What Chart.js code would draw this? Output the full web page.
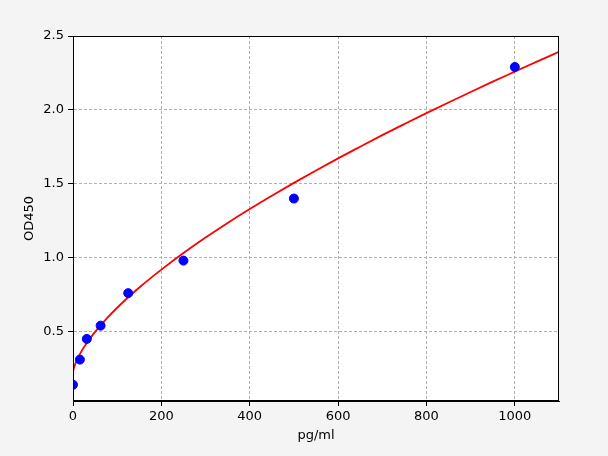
<!DOCTYPE html>
<html>
<head>
<meta charset="utf-8">
<script src="https://cdn.jsdelivr.net/npm/chart.js@4"></script>
<style>
  html, body { margin: 0; padding: 0; background: #f4f4f4; }
  #wrap { width: 608px; height: 456px; }
</style>
</head>
<body>
<div id="wrap"><canvas id="curveChart"></canvas></div>
<script>
// standard points (pg/ml vs OD450)
const stdConc = [0, 15.6, 31.25, 62.5, 125, 250, 500, 1000];
const stdOD = [0.14, 0.31, 0.45, 0.54, 0.76, 0.98, 1.40, 2.29];

// fitted curve
const fitConc = [0, 1, 2.5, 5, 10, 20, 30, 50, 75, 100, 125, 150, 175, 200, 250, 300, 350, 400, 450, 500, 550, 600, 650, 700, 750, 800, 850, 900, 950, 1000, 1050, 1100];
const fitOD = [0.220, 0.241, 0.258, 0.280, 0.315, 0.371, 0.418, 0.498, 0.584, 0.661, 0.732, 0.798, 0.860, 0.919, 1.031, 1.136, 1.235, 1.329, 1.419, 1.506, 1.590, 1.672, 1.751, 1.829, 1.904, 1.978, 2.050, 2.121, 2.191, 2.259, 2.327, 2.393];

const xTicks = [0, 200, 400, 600, 800, 1000];
const yTicks = [0.5, 1.0, 1.5, 2.0, 2.5];

const font = { family: 'DejaVu Sans', size: 13 };

const frame = {
    id: 'frame',
    beforeDraw(chart) {
        const c = chart.ctx, a = chart.chartArea;
        c.save();
        c.fillStyle = '#ffffff';
        c.fillRect(a.left, a.top, a.right - a.left, a.bottom - a.top);
        c.restore();
    },
    afterDraw(chart) {
        const c = chart.ctx, a = chart.chartArea;
        c.save();
        c.strokeStyle = '#000';
        c.lineWidth = 1;
        c.strokeRect(a.left + 0.5, a.top + 0.5, a.right - a.left - 1, a.bottom - a.top - 1);
        c.restore();
    }
};

const gridOpts = {
    color: '#b0b0b0',
    tickColor: '#000',
    tickLength: 5,
    tickBorderDash: [],
    tickWidth: 1
};

new Chart(document.getElementById('curveChart'), {
    type: 'scatter',
    data: {
        datasets: [{
            label: 'standards',
            data: stdConc.map((x, i) => ({ x: x, y: stdOD[i] })),
            backgroundColor: '#0000ff',
            borderColor: '#0000ff',
            pointRadius: 4.5,
            showLine: false,
            order: 1
        }, {
            label: 'fit',
            data: fitConc.map((x, i) => ({ x: x, y: fitOD[i] })),
            borderColor: '#ff0000',
            borderWidth: 1.8,
            pointRadius: 0,
            showLine: true,
            cubicInterpolationMode: 'monotone',
            order: 2
        }]
    },
    options: {
        responsive: true,
        maintainAspectRatio: false,
        animation: false,
        devicePixelRatio: 1,
        layout: { padding: { top: 36, right: 49, left: 0, bottom: 0 } },
        plugins: { legend: { display: false }, tooltip: { enabled: false } },
        scales: {
            x: {
                type: 'linear',
                min: 0,
                max: 1100,
                afterBuildTicks(s) { s.ticks = xTicks.map(v => ({ value: v })); },
                afterFit(s) { s.height = 55; },
                grid: gridOpts,
                border: { display: true, color: '#000', dash: [3, 2] },
                ticks: { color: '#000', font: font, padding: 3, maxRotation: 0, callback: v => String(v) },
                title: { display: true, text: 'pg/ml', color: '#000', font: font, padding: { top: 0, bottom: 13 } }
            },
            y: {
                type: 'linear',
                min: 0.03,
                max: 2.5,
                afterBuildTicks(s) { s.ticks = yTicks.map(v => ({ value: v })); },
                afterFit(s) { s.width = 73; },
                grid: gridOpts,
                border: { display: true, color: '#000', dash: [3, 2] },
                ticks: {
                    color: '#000', font: font, padding: 4,
                    callback: v => Number(v).toFixed(1)
                },
                title: { display: true, text: 'OD450', color: '#000', font: font, padding: { top: 22, bottom: 0 } }
            }
        }
    },
    plugins: [frame]
});
</script>
</body>
</html>
